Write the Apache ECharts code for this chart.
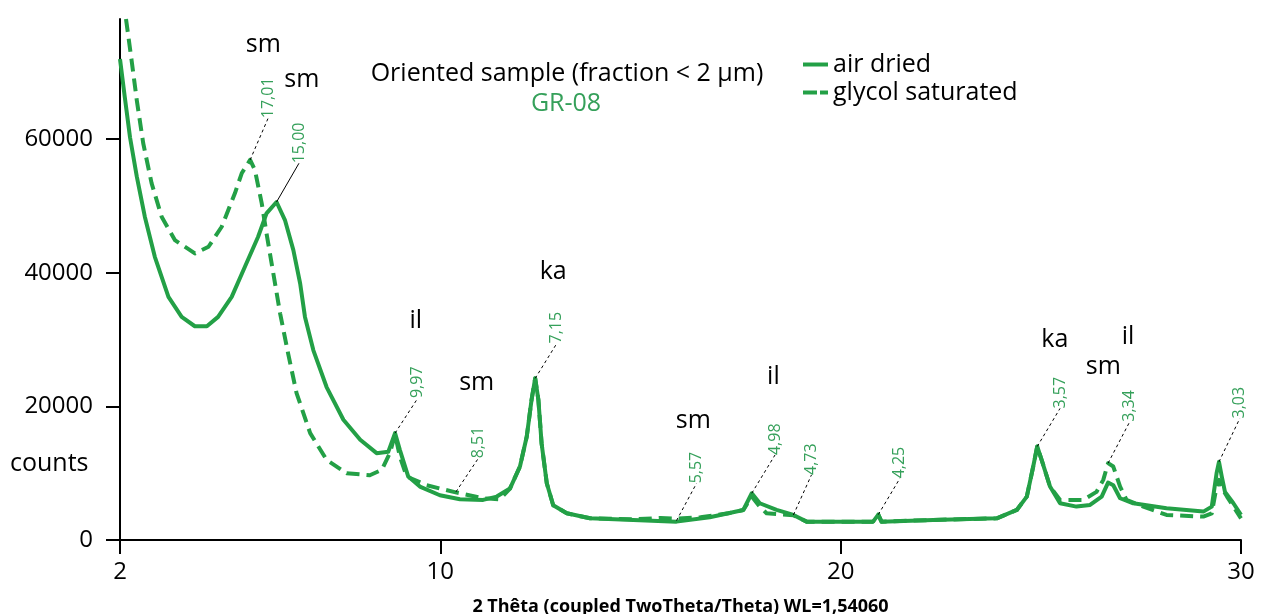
<!DOCTYPE html>
<html>
<head>
<meta charset="utf-8">
<title>GR-08 XRD</title>
<script src="https://cdn.jsdelivr.net/npm/echarts@6/dist/echarts.min.js"></script>
<style>
  html, body { margin: 0; padding: 0; background: #fff; }
  #chart { width: 1266px; height: 614px; }
</style>
</head>
<body>
<div id="chart"></div>
<script>
// 2θ / counts
var airDried = [
  [2.0, 72000], [2.12, 66300], [2.25, 60300], [2.42, 54400], [2.62, 48400],
  [2.87, 42400], [3.21, 36400], [3.54, 33400], [3.87, 32000], [4.17, 32000],
  [4.45, 33400], [4.79, 36400], [5.12, 40900], [5.45, 45400], [5.66, 48900],
  [5.91, 50600], [6.12, 47900], [6.33, 43400], [6.50, 38400], [6.62, 33400],
  [6.83, 28400], [7.16, 22900], [7.58, 18000], [8.0, 15000], [8.41, 13000],
  [8.70, 13200], [8.87, 16000], [8.99, 13500], [9.20, 9500],
  [9.49, 8000], [9.99, 6700], [10.49, 6100], [11.07, 6000], [11.41, 6500],
  [11.74, 7700], [11.99, 11000], [12.16, 15500], [12.28, 21000], [12.37, 24200],
  [12.45, 21000], [12.53, 14500], [12.66, 8500], [12.82, 5200], [13.16, 4000],
  [13.74, 3250], [14.82, 3000], [15.90, 2750], [16.73, 3400], [17.57, 4500],
  [17.78, 7000], [17.98, 5500], [18.40, 4500], [18.82, 3750], [19.15, 2750],
  [20.81, 2750], [20.94, 3800], [21.02, 2750], [22.31, 3000], [23.90, 3250],
  [24.40, 4500], [24.65, 6500], [24.81, 11000], [24.91, 14000], [25.02, 12000],
  [25.23, 8000], [25.48, 5500], [25.89, 5000], [26.23, 5250], [26.52, 6500],
  [26.68, 8600], [26.81, 8200], [26.98, 6250], [27.31, 5500], [28.14, 4750],
  [29.06, 4250], [29.27, 5000], [29.39, 10000], [29.45, 11700], [29.52, 9500],
  [29.60, 7200], [29.81, 5500], [30.0, 3750]
];

var glycolSaturated = [
  [2.15, 78000], [2.29, 71800], [2.42, 65800], [2.58, 59400], [2.79, 53400],
  [3.04, 48400], [3.37, 44900], [3.87, 42900], [4.21, 43900], [4.54, 46900],
  [4.87, 51900], [5.04, 54900], [5.25, 56900], [5.37, 55400], [5.54, 50400],
  [5.66, 45900], [5.83, 39900], [6.00, 33900], [6.20, 27900], [6.41, 22000],
  [6.75, 16000], [7.16, 12000], [7.66, 10000], [8.24, 9700], [8.54, 10500],
  [8.74, 13000], [8.87, 15800],
  [8.99, 12500], [9.16, 9500], [9.66, 8200], [10.41, 7100], [11.07, 6250],
  [11.49, 6100], [11.74, 7700], [11.99, 11000], [12.16, 15500], [12.28, 21000],
  [12.37, 24200], [12.45, 21000], [12.53, 14500], [12.66, 8500], [12.82, 5200],
  [13.16, 4000], [13.74, 3250], [14.82, 3100], [15.5, 3300], [15.90, 3200],
  [16.5, 3400], [17.2, 4000], [17.57, 4500], [17.78, 6500], [17.98, 5000],
  [18.15, 4000], [18.82, 3700], [19.15, 2750], [20.81, 2750], [20.94, 3800],
  [21.02, 2750], [22.31, 3000], [23.90, 3250], [24.40, 4500], [24.65, 6500],
  [24.81, 11000], [24.91, 14000], [25.02, 12000], [25.23, 8000], [25.48, 6000],
  [26.06, 6000], [26.39, 7200], [26.56, 9000], [26.68, 11500], [26.81, 11000],
  [26.98, 8000], [27.14, 6000], [27.56, 5000], [28.14, 3750], [29.06, 3500],
  [29.27, 4000], [29.39, 8000], [29.45, 9000], [29.55, 7500], [29.65, 6500],
  [30.0, 3250]
];

// d-spacing labels: [text, peak 2θ, peak counts, leader tip 2θ, leader tip counts]
var dSpacings = [
  ['17,01', 5.25, 56900, 5.70, 63150],
  ['15,00', 5.91, 50600, 6.47, 56400],
  ['9,97', 8.87, 16000, 9.44, 21250],
  ['8,51', 10.39, 7200, 10.95, 12230],
  ['7,15', 12.37, 24200, 12.91, 29430],
  ['5,57', 15.90, 2900, 16.40, 8480],
  ['4,98', 17.78, 7000, 18.36, 12720],
  ['4,73', 18.82, 3750, 19.27, 9730],
  ['4,25', 20.94, 3800, 21.48, 9230],
  ['3,57', 24.91, 14000, 25.48, 19700],
  ['3,34', 26.68, 11500, 27.22, 17700],
  ['3,03', 29.45, 11700, 29.97, 18200]
];

// mineral tags: [2θ, counts, text]
var mineralTags = [
  [5.58, 74070, 'sm'], [6.54, 68830, 'sm'], [9.39, 32770, 'il'],
  [12.82, 40150, 'ka'], [10.91, 23450, 'sm'], [16.32, 17800, 'sm'],
  [18.32, 24430, 'il'], [25.35, 29930, 'ka'], [26.56, 25930, 'sm'],
  [27.18, 30420, 'il']
];

var xTicks = [2, 10, 20, 30];
var yTicks = [0, 20000, 40000, 60000];

var green = '#23a046';
var labelGreen = '#35a05a';
var ink = '#000';
var font = '"Open Sans", "Noto Sans", sans-serif';

var chart = echarts.init(document.getElementById('chart'));

var leaders = dSpacings.map(function (d) {
  return [
    { coord: [d[1], d[2]], lineStyle: { type: d[0] === '15,00' ? 'solid' : [3, 3] } },
    { coord: [d[3], d[4]] }
  ];
});

var option = {
  animation: false,
  textStyle: { fontFamily: font },
  grid: { left: 120, right: 25, top: 19, bottom: 74, outerBoundsMode: 'none' },
  legend: {
    data: [
      { name: 'air dried', icon: 'rect' },
      { name: 'glycol saturated', icon: 'path://M0,0h14v4h-14z M17,0h8v4h-8z' }
    ],
    orient: 'vertical',
    left: 798,
    top: 47,
    itemWidth: 25,
    itemHeight: 4,
    itemGap: 3,
    textStyle: { fontSize: 25, color: ink, lineHeight: 25, fontFamily: font }
  },
  xAxis: {
    type: 'value',
    min: 2,
    max: 30,
    name: '2 Thêta (coupled TwoTheta/Theta) WL=1,54060',
    nameLocation: 'middle',
    nameGap: 58,
    nameTextStyle: { fontSize: 18, fontWeight: 'bold', color: ink, fontFamily: font },
    axisLine: { lineStyle: { color: ink, width: 2 } },
    axisTick: { length: 14, lineStyle: { color: ink, width: 2 }, customValues: xTicks },
    axisLabel: { fontSize: 24, color: ink, margin: 20, customValues: xTicks },
    splitLine: { show: false }
  },
  yAxis: {
    type: 'value',
    min: 0,
    max: 78000,
    axisLine: { show: true, lineStyle: { color: ink, width: 2 } },
    axisTick: { show: true, length: 14, lineStyle: { color: ink, width: 2 }, customValues: yTicks },
    axisLabel: {
      fontSize: 24, color: ink, margin: 27, customValues: yTicks,
      formatter: function (v) { return String(v); }
    },
    splitLine: { show: false }
  },
  graphic: [
    { type: 'text', left: 10, top: 451, style: { text: 'counts', font: '25px ' + font, fill: ink } },
    { type: 'text', x: 567, y: 74, style: { text: 'Oriented sample (fraction < 2 µm)', font: '25px ' + font, fill: ink, align: 'center', verticalAlign: 'middle' } },
    { type: 'text', x: 566, y: 104, style: { text: 'GR-08', font: '25px ' + font, fill: labelGreen, align: 'center', verticalAlign: 'middle' } }
  ],
  series: [
    {
      name: 'glycol saturated',
      type: 'line',
      data: glycolSaturated,
      symbol: 'none',
      color: green,
      lineStyle: { color: green, width: 4, type: [13, 7], cap: 'butt', join: 'round' }
    },
    {
      name: 'air dried',
      type: 'line',
      data: airDried,
      symbol: 'none',
      color: green,
      lineStyle: { color: green, width: 4, join: 'round' }
    },
    {
      name: 'd-spacing',
      type: 'scatter',
      clip: false,
      symbolSize: 1,
      itemStyle: { color: 'transparent', opacity: 1 },
      data: dSpacings.map(function (d) { return [d[3], d[4], d[0]]; }),
      label: {
        show: true,
        position: 'inside',
        rotate: 90,
        align: 'left',
        verticalAlign: 'middle',
        fontSize: 16,
        color: labelGreen,
        fontFamily: font,
        formatter: function (p) { return p.value[2]; }
      },
      markLine: {
        silent: true,
        symbol: ['none', 'none'],
        label: { show: false },
        lineStyle: { color: ink, width: 1 },
        data: leaders
      }
    },
    {
      name: 'minerals',
      type: 'scatter',
      clip: false,
      symbolSize: 1,
      itemStyle: { color: 'transparent', opacity: 1 },
      data: mineralTags,
      label: {
        show: true,
        position: 'inside',
        align: 'center',
        verticalAlign: 'middle',
        fontSize: 25,
        color: ink,
        fontFamily: font,
        formatter: function (p) { return p.value[2]; }
      }
    }
  ]
};

chart.setOption(option);
</script>
</body>
</html>
